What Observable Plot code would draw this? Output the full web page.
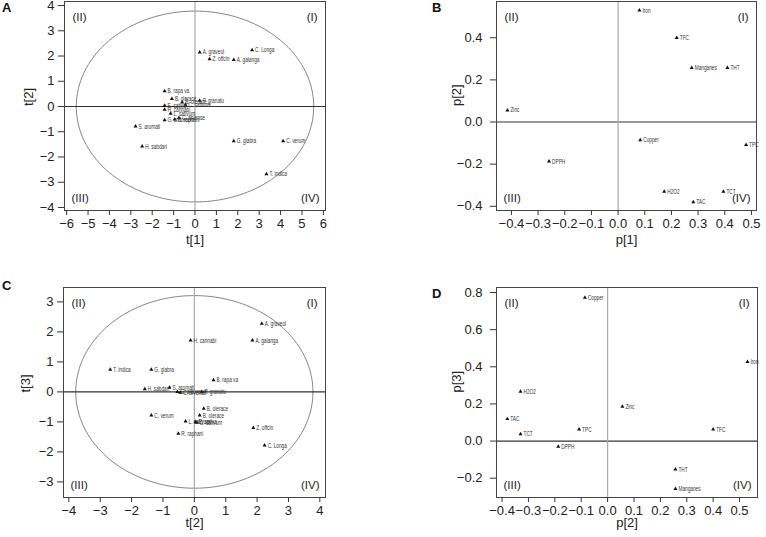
<!DOCTYPE html>
<html><head><meta charset="utf-8">
<script src="https://cdn.jsdelivr.net/npm/d3@7"></script>
<script src="https://cdn.jsdelivr.net/npm/@observablehq/plot@0.6"></script>
<style>
body{margin:0;background:#fff;}
#wrap{position:relative;width:766px;height:537px;font-family:"Liberation Sans",Arial,sans-serif;background:#fff;}
.panel{position:absolute;}
.letter{position:absolute;font-weight:bold;font-size:13px;color:#111;line-height:1;}
</style></head><body><div id="wrap"></div>
<script>
// ---- Scores (plants) ----
const species = ["A. graveol","Z. offcin","A. galanga","C. Longa","B. rapa va","B. olerace","P. granatu","B. olerace","E. sativa","C. sativum","L. sativum","H. cannabi","G. arboreum","R. raphani","C. arvense","S. aromati","H. sabdari","G. glabra","C. verum","T. indica"];
const t1 = [0.22, 0.68, 1.81, 2.67, -1.42, -1.08, 0.22, -0.60, -1.42, -0.45, -1.14, -1.42, -1.42, -0.95, -0.75, -2.78, -2.47, 1.81, 4.12, 3.34];
const t2 = [2.15, 1.88, 1.85, 2.24, 0.61, 0.30, 0.23, 0.17, 0.04, 0.08, -0.28, -0.12, -0.54, -0.51, -0.45, -0.79, -1.58, -1.37, -1.37, -2.68];
const t3 = [2.28, -1.20, 1.72, -1.78, 0.39, -0.56, 0.00, -0.78, -1.00, -1.02, -0.98, 1.72, 0.00, -1.39, -0.02, 0.14, 0.09, 0.74, -0.78, 0.74];
// ---- Loadings (variables) ----
const variables = ["Iron","TFC","Manganes","THT","Zinc","Copper","TPC","DPPH","H2O2","TCT","TAC"];
const p1 = [0.08, 0.22, 0.276, 0.41, -0.415, 0.083, 0.48, -0.259, 0.173, 0.395, 0.282];
const p2 = [0.53, 0.40, 0.257, 0.257, 0.056, -0.086, -0.108, -0.187, -0.33, -0.33, -0.38];
const p3 = [0.427, 0.063, -0.257, -0.152, 0.185, 0.773, 0.063, -0.03, 0.266, 0.037, 0.119];
// ---- Hotelling ellipse radii ----
const ellipseA = [5.55, 3.78];
const ellipseC = [3.78, 3.21];
// ---- Tick values ----
const ticksT1 = [-6,-5,-4,-3,-2,-1,0,1,2,3,4,5,6];
const ticksT2A = [-4,-3,-2,-1,0,1,2,3,4];
const ticksT2C = [-4,-3,-2,-1,0,1,2,3,4];
const ticksT3 = [-3,-2,-1,0,1,2,3];
const ticksP1 = [-0.4,-0.3,-0.2,-0.1,0,0.1,0.2,0.3,0.4,0.5];
const ticksP2B = [-0.4,-0.2,0,0.2,0.4];
const ticksP2D = [-0.4,-0.3,-0.2,-0.1,0,0.1,0.2,0.3,0.4,0.5];
const ticksP3 = [-0.2,0,0.2,0.4,0.6,0.8];
const quadrants = ["(I)","(II)","(III)","(IV)"];
const panelLetters = ["A","B","C","D"];

const scores = species.map((n,i)=>({name:n, t1:t1[i], t2:t2[i], t3:t3[i]}));
const loadings = variables.map((n,i)=>({name:n, p1:p1[i], p2:p2[i], p3:p3[i]}));
function ellipsePts(r){ return d3.range(0,361,2).map(a=>({x:r[0]*Math.cos(a*Math.PI/180), y:r[1]*Math.sin(a*Math.PI/180)})); }

const FONT = "Liberation Sans, Arial, sans-serif";
function panel(o){
  const marks = [];
  if (o.ellipse) marks.push(Plot.line(ellipsePts(o.ellipse), {x:"x", y:"y", stroke:"#777", strokeWidth:0.9}));
  marks.push(Plot.ruleY([0], {stroke:"#333", strokeWidth:1.2}));
  marks.push(Plot.ruleX([0], {stroke:"#aaa", strokeWidth:1.2}));
  marks.push(Plot.frame({stroke:"#444", strokeWidth:1}));
  marks.push(Plot.axisX(o.xTicks, {tickSize:5, tickPadding:3, tickFormat:o.fmt, label:null, fontSize:13, fill:"#222", stroke:"#333"}));
  marks.push(Plot.axisY(o.yTicks, {tickSize:6, tickPadding:o.yPad, tickFormat:o.fmt, label:null, fontSize:13, fill:"#222", stroke:"#333"}));
  marks.push(Plot.dot(o.data, {x:o.xk, y:o.yk, symbol:"triangle", r:1.5, fill:"#111", stroke:null}));
  marks.push(Plot.text(o.data, {x:o.xk, y:o.yk, text:"name", textAnchor:"start", dx:3, fontSize:7, fill:"#333"}));
  marks.push(Plot.text([quadrants[1]], {frameAnchor:"top-left", dx:8, dy:11, fontSize:11.5, fill:"#222"}));
  marks.push(Plot.text([quadrants[0]], {frameAnchor:"top-right", dx:-8, dy:11, fontSize:11.5, fill:"#222"}));
  marks.push(Plot.text([quadrants[2]], {frameAnchor:"bottom-left", dx:7, dy:-9, fontSize:11.5, fill:"#222"}));
  marks.push(Plot.text([quadrants[3]], {frameAnchor:"bottom-right", dx:-6, dy:-9, fontSize:11.5, fill:"#222"}));
  marks.push(Plot.text([o.xLabel], {frameAnchor:"bottom", dy:o.xLabOff, fontSize:13, fill:"#222"}));
  marks.push(Plot.text([o.yLabel], {frameAnchor:"left", dx:o.yLabOff, rotate:-90, fontSize:13, fill:"#222"}));
  const svg = Plot.plot({
    width:o.width, height:o.height,
    marginLeft:o.m[0], marginRight:o.m[1], marginTop:o.m[2], marginBottom:o.m[3],
    x:{domain:o.xd}, y:{domain:o.yd},
    style:{fontFamily:FONT, fontSize:"12px", background:"white", overflow:"visible"},
    marks
  });
  d3.select(svg).selectAll('g[font-size="7"] text').attr("transform", function(){ return this.getAttribute("transform") + " scale(0.68,1)"; });
  const div = document.createElement("div");
  div.className = "panel";
  div.style.left = o.left + "px"; div.style.top = o.top + "px";
  div.appendChild(svg);
  document.getElementById("wrap").appendChild(div);
  const L = document.createElement("div");
  L.className = "letter"; L.textContent = o.letter;
  L.style.left = o.lx + "px"; L.style.top = o.ly + "px";
  document.getElementById("wrap").appendChild(L);
}
const fInt = d3.format("d"), fDec = d3.format(".1f");
panel({data:scores, xk:"t1", yk:"t2", xd:[-6.1,6.1], yd:[-4.12,4.16], xTicks:ticksT1, yTicks:ticksT2A, fmt:fInt,
  width:383, height:268, m:[64,58,1,58], left:0, top:0, ellipse:ellipseA, xLabel:"t[1]", yLabel:"t[2]", xLabOff:33, yLabOff:-36, yPad:4,
  letter:panelLetters[0], lx:2, ly:1});
panel({data:loadings, xk:"p1", yk:"p2", xd:[-0.456,0.519], yd:[-0.42,0.572], xTicks:ticksP1, yTicks:ticksP2B, fmt:fDec,
  width:383, height:268, m:[113,10,1,58], left:383, top:0, ellipse:null, xLabel:"p[1]", yLabel:"p[2]", xLabOff:33, yLabOff:-40, yPad:8,
  letter:panelLetters[1], lx:432, ly:1});
panel({data:scores, xk:"t2", yk:"t3", xd:[-4.17,4.18], yd:[-3.52,3.48], xTicks:ticksT2C, yTicks:ticksT3, fmt:fInt,
  width:383, height:269, m:[63,58,19,40], left:0, top:268, ellipse:ellipseC, xLabel:"t[2]", yLabel:"t[3]", xLabOff:29, yLabOff:-38, yPad:4,
  letter:panelLetters[2], lx:2, ly:279});
panel({data:loadings, xk:"p2", yk:"p3", xd:[-0.421,0.568], yd:[-0.304,0.827], xTicks:ticksP2D, yTicks:ticksP3, fmt:fDec,
  width:383, height:269, m:[113,9,19,40], left:383, top:268, ellipse:null, xLabel:"p[2]", yLabel:"p[3]", xLabOff:29, yLabOff:-40, yPad:8,
  letter:panelLetters[3], lx:432, ly:287});
</script></body></html>
